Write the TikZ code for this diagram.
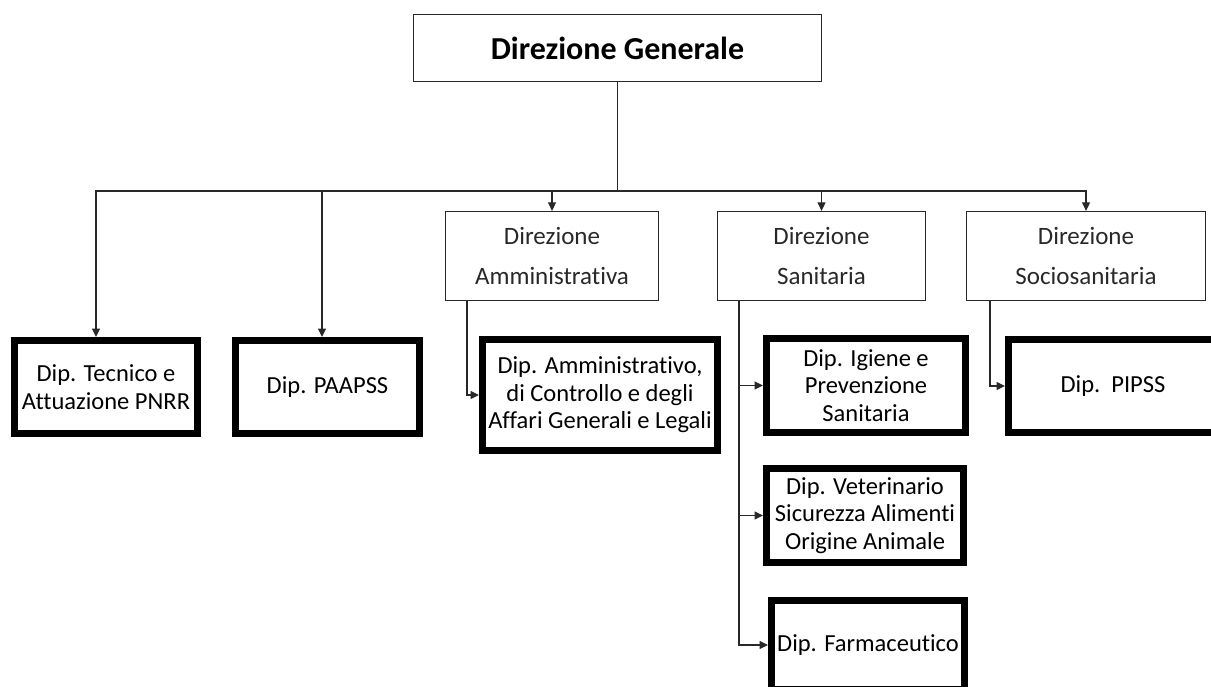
\documentclass[tikz,border=0pt]{standalone}
\usepackage{fontspec}
\setmainfont{Carlito}[Ligatures=NoCommon]
\usetikzlibrary{arrows,arrows.meta}
\usetikzlibrary{positioning}
\definecolor{linegray}{RGB}{40,40,40}
\tikzset{
    dirbox/.style={draw=linegray, line width=1.3pt, rectangle, inner sep=0pt, align=center,
        text=linegray, font=\fontsize{25}{40}\selectfont},
    dipbox/.style={draw=black, line width=7pt, rectangle, inner sep=0pt, align=center,
        text=black, font=\fontsize{24.5}{27.5}\selectfont},
    conn/.style={draw=linegray, line width=1.3pt},
    arr/.style={conn, -{Triangle[length=8.5pt, width=8pt]}}
}

\begin{document}
\begin{tikzpicture}[x=1pt, y=-1pt]
    \useasboundingbox (0,0) rectangle (1211,687);
    \clip (0,0) rectangle (1211,687);
    % direzioni
    \node[dirbox, minimum width=408pt, minimum height=67pt,
        font=\bfseries\fontsize{32}{36}\selectfont, text=black] (dg) at (617.5,48) {Direzione Generale};
    \node[dirbox, minimum width=213pt, minimum height=89pt] (da) at (552,256) {Direzione\\Amministrativa};
    \node[dirbox, minimum width=208pt, minimum height=89pt] (ds) at (821.5,256) {Direzione\\Sanitaria};
    \node[dirbox, minimum width=239pt, minimum height=89pt] (dss) at (1086,256) {Direzione\\Sociosanitaria};
    % dipartimenti
    \node[dipbox, minimum width=183pt, minimum height=93pt] (pnrr) at (106,387) {Dip. Tecnico e\\Attuazione PNRR};
    \node[dipbox, minimum width=184pt, minimum height=93pt] (paapss) at (327.5,387) {Dip. PAAPSS};
    \node[dipbox, minimum width=235pt, minimum height=111pt] (amm) at (600,395) {Dip. Amministrativo,\\di Controllo e degli\\Affari Generali e Legali};
    \node[dipbox, minimum width=199pt, minimum height=94pt] (igiene) at (866,385.5) {Dip. Igiene e\\Prevenzione\\Sanitaria};
    \node[dipbox, minimum width=209pt, minimum height=93pt] (pipss) at (1113,386) {Dip.~~PIPSS};
    \node[dipbox, minimum width=197pt, minimum height=94pt] (vet) at (865,515.5) {Dip. Veterinario\\Sicurezza Alimenti\\Origine Animale};
    \node[dipbox, minimum width=193pt, minimum height=89pt] (farm) at (868,645) {Dip. Farmaceutico};
    % collegamenti
    \coordinate (bus) at (617.5,191);
    \draw[conn] (dg.south) -- (bus);
    \draw[arr] (bus) -| ([xshift=-10pt]pnrr.north);
    \draw[arr] (bus) -| ([xshift=-5.5pt]paapss.north);
    \draw[arr] (bus) -| (da.north);
    \draw[arr] (bus) -| (ds.north);
    \draw[arr] (bus) -| (dss.north);
    \draw[arr] ([xshift=-85pt]da.south) |- (amm.west);
    \draw[arr] ([xshift=-82.5pt]ds.south) |- (igiene.west);
    \draw[arr] ([xshift=-82.5pt]ds.south) |- (vet.west);
    \draw[arr] ([xshift=-82.5pt]ds.south) |- (farm.west);
    \draw[arr] ([xshift=-96pt]dss.south) |- (pipss.west);
\end{tikzpicture}
\end{document}
